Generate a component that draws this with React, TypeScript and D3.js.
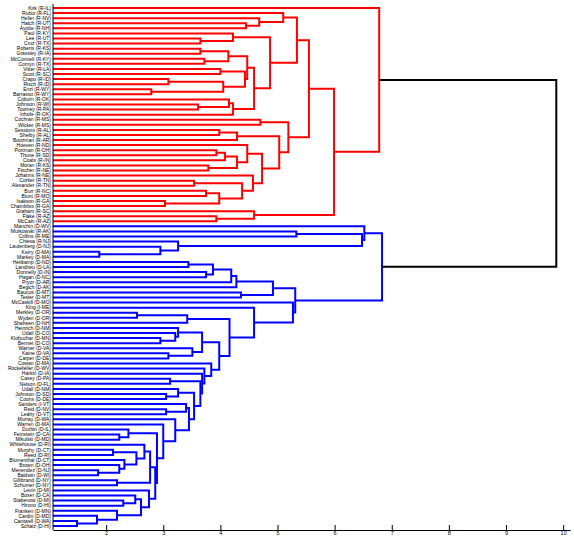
import React, { useEffect, useRef } from 'react';
import * as d3 from 'd3';

const WIDTH = 574;
const HEIGHT = 537;

type Link = [string, string, string, number];

// linkage rows: [node, upper child, lower child, merge distance]
const republicanLinks: Link[] = [
  ["r1", "Hatch (R-UT)", "Ayotte (R-NH)", 4.45],
  ["r2", "Heller (R-NV)", "r1", 4.68],
  ["r3", "Rubio (R-FL)", "r2", 5.10],
  ["r4", "Lee (R-UT)", "Cruz (R-TX)", 3.65],
  ["r5", "Paul (R-KY)", "r4", 4.22],
  ["r6", "Roberts (R-KS)", "Grassley (R-IA)", 3.65],
  ["r7", "McConnell (R-KY)", "Cornyn (R-TX)", 3.72],
  ["r8", "r6", "r7", 4.14],
  ["r9", "Vitter (R-LA)", "Scott (R-SC)", 4.00],
  ["r10", "Crapo (R-ID)", "Risch (R-ID)", 3.09],
  ["r11", "Enzi (R-WY)", "Barrasso (R-WY)", 2.79],
  ["r12", "r10", "r11", 4.05],
  ["r13", "r9", "r12", 4.43],
  ["r14", "r8", "r13", 4.47],
  ["r15", "Johnson (R-WI)", "Toomey (R-PA)", 3.61],
  ["r16", "Coburn (R-OK)", "r15", 4.15],
  ["r17", "r16", "Inhofe (R-OK)", 4.22],
  ["r18", "r14", "r17", 4.59],
  ["r19", "r5", "r18", 4.87],
  ["r20", "r3", "r19", 5.34],
  ["r21", "Cochran (R-MS)", "Wicker (R-MS)", 4.70],
  ["r22", "Sessions (R-AL)", "Shelby (R-AL)", 3.98],
  ["r23", "r22", "Boozman (R-AR)", 4.29],
  ["r24", "Portman (R-OH)", "Thune (R-SD)", 3.93],
  ["r25", "r24", "Coats (R-IN)", 4.08],
  ["r26", "Moran (R-KS)", "Fischer (R-NE)", 3.79],
  ["r27", "r25", "r26", 4.29],
  ["r28", "Hoeven (R-ND)", "r27", 4.47],
  ["r29", "Corker (R-TN)", "Alexander (R-TN)", 3.54],
  ["r30", "Burr (R-NC)", "Blunt (R-MO)", 3.75],
  ["r31", "Isakson (R-GA)", "Chambliss (R-GA)", 3.03],
  ["r32", "r30", "r31", 3.98],
  ["r33", "r29", "r32", 4.38],
  ["r34", "Johanns (R-NE)", "r33", 4.57],
  ["r35", "r28", "r34", 4.73],
  ["r36", "r23", "r35", 5.03],
  ["r37", "r21", "r36", 5.19],
  ["r38", "r20", "r37", 5.55],
  ["r39", "Flake (R-AZ)", "McCain (R-AZ)", 3.93],
  ["r40", "Graham (R-SC)", "r39", 4.59],
  ["r41", "r38", "r40", 5.99],
  ["r42", "Kirk (R-IL)", "r41", 6.78],
];

const democraticLinks: Link[] = [
  ["b1", "Kerry (D-MA)", "Markey (D-MA)", 1.88],
  ["b2", "Lautenberg (D-NJ)", "b1", 2.95],
  ["b3", "Chiesa (R-NJ)", "b2", 3.26],
  ["b4", "Murkowski (R-AK)", "Collins (R-ME)", 5.33],
  ["b5", "b4", "b3", 6.48],
  ["b6", "Manchin (D-WV)", "b5", 6.52],
  ["b7", "Heitkamp (D-ND)", "Landrieu (D-LA)", 3.44],
  ["b8", "Donnelly (D-IN)", "Hagan (D-NC)", 3.75],
  ["b9", "b7", "b8", 3.87],
  ["b10", "b9", "Pryor (D-AR)", 4.19],
  ["b11", "b10", "Begich (D-AK)", 4.28],
  ["b12", "Baucus (D-MT)", "Tester (D-MT)", 4.36],
  ["b13", "b11", "b12", 4.92],
  ["b14", "Merkley (D-OR)", "Wyden (D-OR)", 2.54],
  ["b15", "b14", "Shaheen (D-NH)", 3.42],
  ["b16", "Klobuchar (D-MN)", "Bennet (D-CO)", 2.95],
  ["b17", "Udall (D-CO)", "b16", 3.21],
  ["b18", "Heinrich (D-NM)", "b17", 3.26],
  ["b19", "Kaine (D-VA)", "Carper (D-DE)", 3.09],
  ["b20", "Warner (D-VA)", "b19", 3.51],
  ["b21", "b18", "b20", 3.68],
  ["b22", "Casey (D-PA)", "Nelson (D-FL)", 3.12],
  ["b23", "Johnson (D-SD)", "Coons (D-DE)", 3.05],
  ["b24", "Udall (D-NM)", "b23", 3.26],
  ["b25", "Reid (D-NV)", "Leahy (D-VT)", 3.05],
  ["b26", "Sanders (I-VT)", "b25", 3.40],
  ["b27", "Feinstein (D-CA)", "Mikulski (D-MD)", 2.23],
  ["b28", "Durbin (D-IL)", "b27", 2.39],
  ["b29", "Murphy (D-CT)", "Reed (D-RI)", 2.12],
  ["b30", "Menendez (D-NJ)", "Baldwin (D-WI)", 1.86],
  ["b31", "Brown (D-OH)", "b30", 2.23],
  ["b32", "Blumenthal (D-CT)", "b31", 2.32],
  ["b33", "b29", "b32", 2.53],
  ["b34", "Whitehouse (D-RI)", "b33", 2.67],
  ["b35", "Gillibrand (D-NY)", "Schumer (D-NY)", 2.19],
  ["b36", "b34", "b35", 2.77],
  ["b37", "Stabenow (D-MI)", "Hirono (D-HI)", 2.30],
  ["b38", "Boxer (D-CA)", "b37", 2.51],
  ["b39", "Cantwell (D-WA)", "Schatz (D-HI)", 1.49],
  ["b40", "Cardin (D-MD)", "b39", 1.84],
  ["b41", "Franken (D-MN)", "b40", 2.19],
  ["b42", "b38", "b41", 2.61],
  ["b43", "Levin (D-MI)", "b42", 2.75],
  ["b44", "b36", "b43", 2.86],
  ["b45", "b28", "b44", 2.89],
  ["b46", "Warren (D-MA)", "b45", 3.00],
  ["b47", "Murray (D-WA)", "b46", 3.21],
  ["b48", "b26", "b47", 3.45],
  ["b49", "b24", "b48", 3.54],
  ["b50", "b22", "b49", 3.65],
  ["b51", "Harkin (D-IA)", "b50", 3.68],
  ["b52", "Rockefeller (D-WV)", "b51", 3.72],
  ["b53", "Cowan (D-MA)", "b52", 3.84],
  ["b54", "b21", "b53", 3.98],
  ["b55", "b15", "b54", 4.16],
  ["b56", "King (I-ME)", "b55", 4.59],
  ["b57", "McCaskill (D-MO)", "b56", 5.27],
  ["b58", "b13", "b57", 5.31],
  ["b59", "b6", "b58", 6.83],
];

const rootLinks: Link[] = [["root", "r42", "b59", 9.88]];

const xTicks = [2, 3, 4, 5, 6, 7, 8, 9, 10];

const App = () => {
  const svgRef = useRef<SVGSVGElement>(null);

  useEffect(() => {
    const svg = d3.select(svgRef.current);
    svg.selectAll("*").remove();

    const margin = { top: 8, right: 4, bottom: 11, left: 53 };
    const plotBottom = HEIGHT - 7;

    const allLinks = [...republicanLinks, ...democraticLinks, ...rootLinks];
    const kids = new Map<string, [string, string]>();
    const dist = new Map<string, number>();
    allLinks.forEach(([id, a, b, h]) => {
      kids.set(id, [a, b]);
      dist.set(id, h);
    });

    // leaf order from the tree, top to bottom
    const order: string[] = [];
    const walk = (id: string) => {
      const c = kids.get(id);
      if (!c) { order.push(id); return; }
      walk(c[0]);
      walk(c[1]);
    };
    walk("root");

    const x = d3.scaleLinear().domain([1.07, 10.12]).range([margin.left, WIDTH - margin.right]);
    const y = d3.scalePoint<string>().domain(order).range([margin.top, HEIGHT - margin.bottom]);

    const pos = new Map<string, { x: number; y: number }>();
    const place = (id: string): { x: number; y: number } => {
      const known = pos.get(id);
      if (known) return known;
      const c = kids.get(id);
      let p;
      if (!c) {
        p = { x: x(x.domain()[0]), y: y(id) as number };
      } else {
        const pa = place(c[0]);
        const pb = place(c[1]);
        p = { x: x(dist.get(id) as number), y: (pa.y + pb.y) / 2 };
      }
      pos.set(id, p);
      return p;
    };
    place("root");

    const linkPath = ([id, a, b]: Link) => {
      const pa = pos.get(a)!, pb = pos.get(b)!, pn = pos.get(id)!;
      const p = d3.path();
      p.moveTo(pa.x, pa.y);
      p.lineTo(pn.x, pa.y);
      p.lineTo(pn.x, pb.y);
      p.lineTo(pb.x, pb.y);
      return p.toString();
    };

    const drawLinks = (links: Link[], color: string) => {
      svg.append("g")
        .attr("fill", "none")
        .attr("stroke", color)
        .attr("stroke-width", 2)
        .selectAll("path")
        .data(links)
        .join("path")
        .attr("d", linkPath);
    };

    drawLinks(republicanLinks, "#ff0000");
    drawLinks(democraticLinks, "#0000ff");
    drawLinks(rootLinks, "#000000");

    // left axis line
    svg.append("line")
      .attr("x1", margin.left).attr("x2", margin.left)
      .attr("y1", 4).attr("y2", plotBottom)
      .attr("stroke", "#000")
      .attr("stroke-width", 1);

    // leaf labels
    svg.append("g")
      .attr("font-family", "'Liberation Sans', Arial, sans-serif")
      .attr("font-size", 5)
      .attr("text-anchor", "end")
      .selectAll("text")
      .data(order)
      .join("text")
      .attr("x", margin.left - 2)
      .attr("y", d => y(d) as number)
      .attr("dy", "0.35em")
      .text(d => d);

    const xAxis = svg.append("g")
      .attr("transform", `translate(0,${plotBottom})`)
      .call(d3.axisBottom(x).tickValues(xTicks).tickSizeInner(-5).tickSizeOuter(0).tickPadding(1).tickFormat(d3.format("d")))
      .attr("font-family", "'Liberation Sans', Arial, sans-serif")
      .attr("font-size", 5.5);
    xAxis.select(".domain").attr("stroke-width", 1);
  }, []);

  return (
    <svg
      ref={svgRef}
      width={WIDTH}
      height={HEIGHT}
      style={{ position: 'absolute', left: 0, top: 0, background: '#fff' }}
    />
  );
};

export default App;
